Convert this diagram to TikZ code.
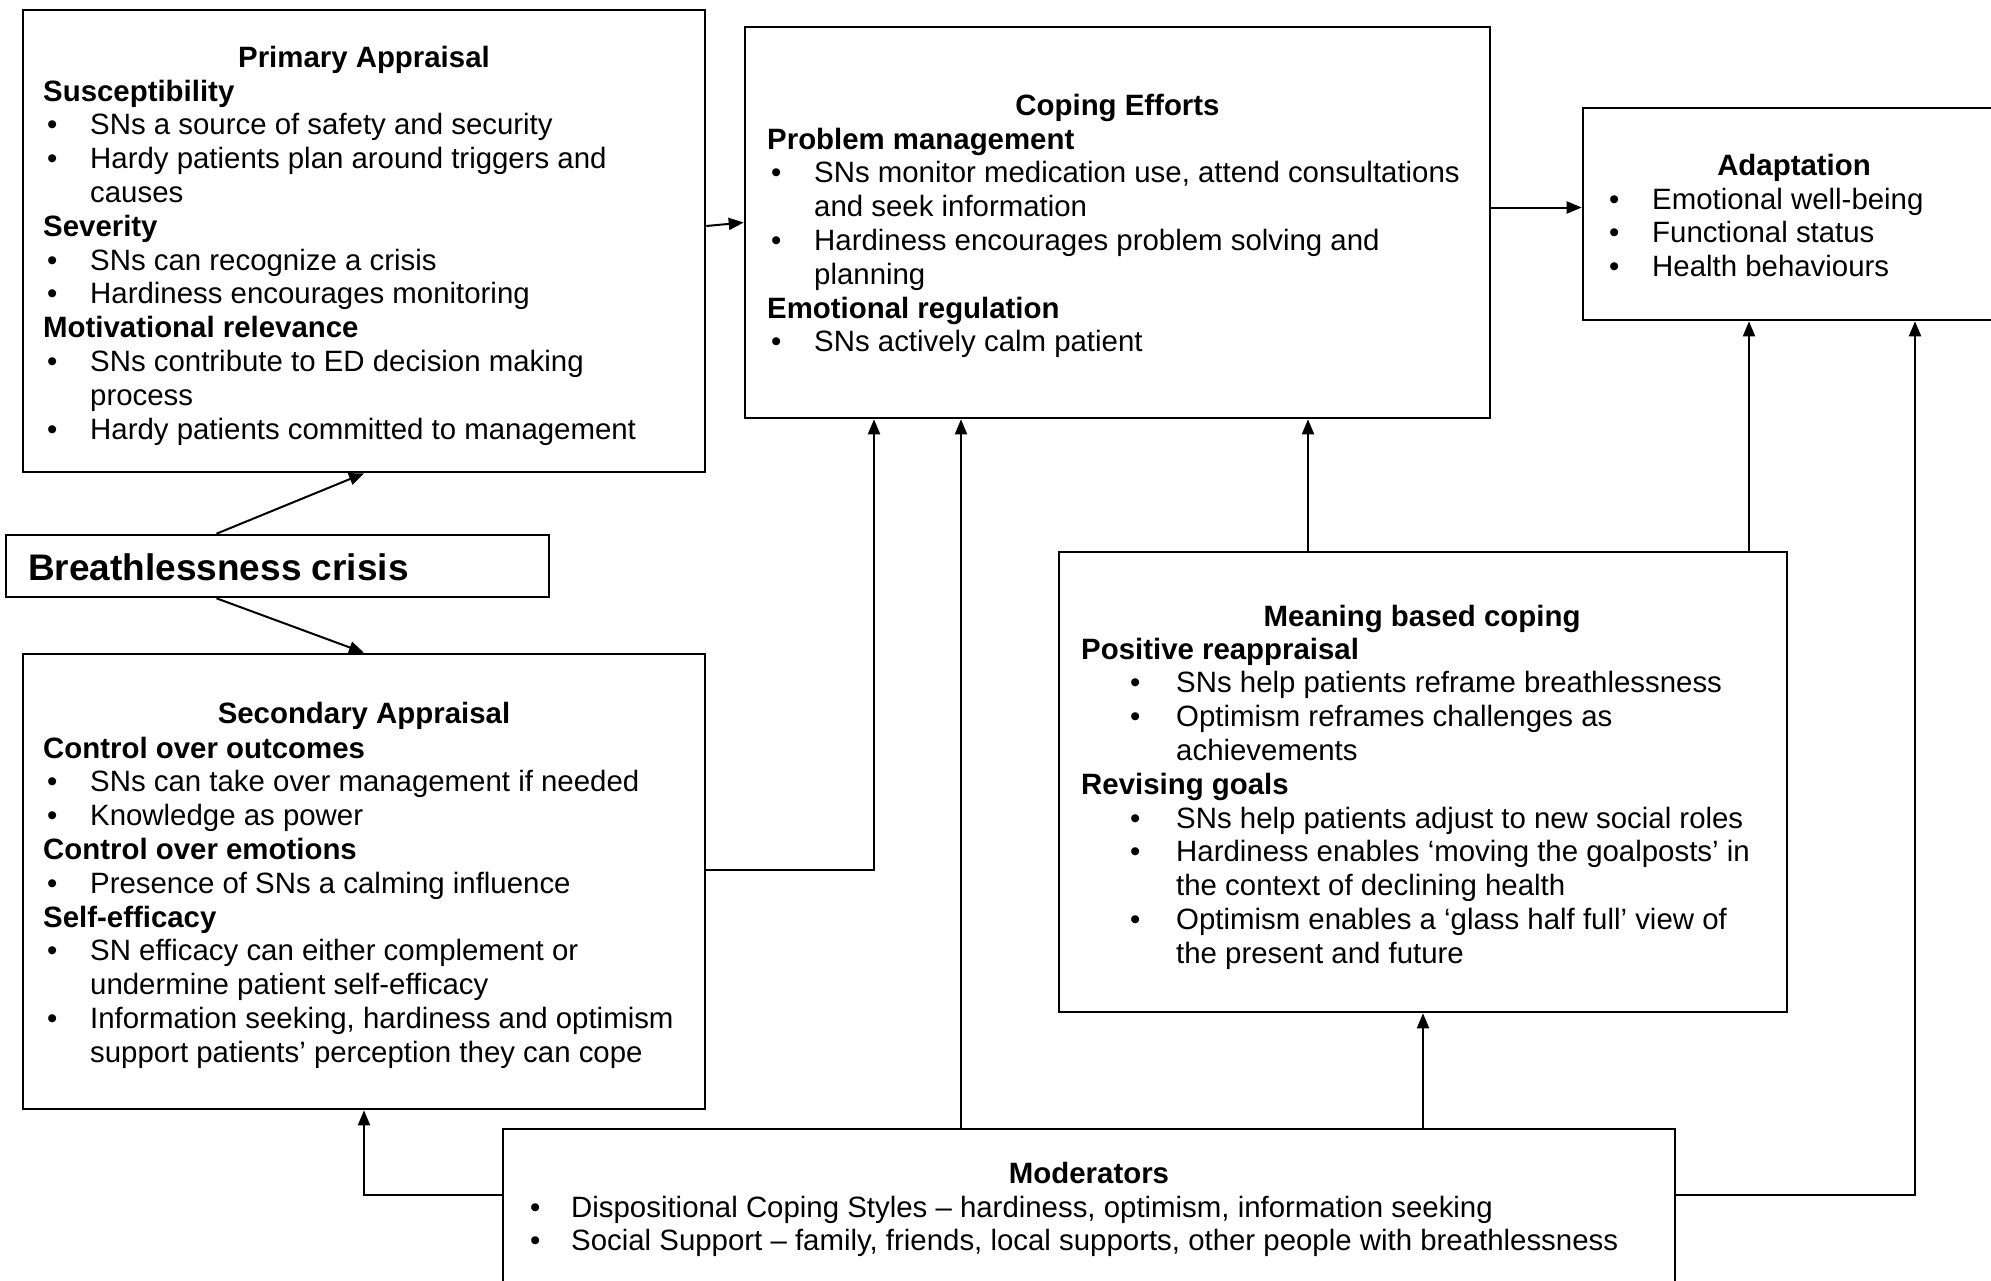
\documentclass[tikz,border=0pt]{standalone}
\usepackage{fontspec}
\setmainfont{Liberation Sans}
\usetikzlibrary{arrows.meta,calc}
\newcommand\bu{\hspace*{4pt}\makebox[43pt][l]{•}}
\newcommand\cn{\hspace*{47pt}}
\newcommand\bm{\hspace*{49pt}\makebox[46pt][l]{•}}
\newcommand\cm{\hspace*{95pt}}
\newcommand\bd{\hspace*{4pt}\makebox[41pt][l]{•}}
\tikzset{
  box/.style={draw, line width=2.6pt, rectangle, inner sep=0pt, fill=white},
  body/.style={anchor=base west, align=left, inner sep=0pt, font=\fontsize{29.4}{33.8}\selectfont},
  ttl/.style={anchor=base, inner sep=0pt, font=\fontsize{29.4}{33.8}\selectfont\bfseries},
  arr/.style={line width=2pt, -{Triangle[length=15pt,width=12pt]}},
  ln/.style={line width=2pt}
}
\begin{document}
\begin{tikzpicture}[x=1pt,y=-1pt]
\useasboundingbox (0,0) rectangle (1991,1280);
\clip (0,0) rectangle (1991,1280);
\fill[white] (0,0) rectangle (1991,1280);

% boxes
\node[box, minimum width=682pt, minimum height=462pt] (P) at (364,241) {};
\node[box, minimum width=543pt, minimum height=62pt] (B) at (277.5,566) {};
\node[box, minimum width=682pt, minimum height=455pt] (S) at (364,881.5) {};
\node[box, minimum width=745pt, minimum height=391pt] (C) at (1117.5,222.5) {};
\node[box, minimum width=422pt, minimum height=212pt] (A) at (1794,214) {};
\node[box, minimum width=728pt, minimum height=460pt] (M) at (1423,782) {};
\node[box, minimum width=1172pt, minimum height=171pt] (D) at (1089,1214.5) {};

% texts (body nodes are placed by the baseline of their last line)
\node[ttl] (Pt) at (364,67) {Primary Appraisal};
\node[body] (Pb) at (43,{101+10*33.8}) {\textbf{Susceptibility}\\
\bu SNs a source of safety and security\\
\bu Hardy patients plan around triggers and\\
\cn causes\\
\textbf{Severity}\\
\bu SNs can recognize a crisis\\
\bu Hardiness encourages monitoring\\
\textbf{Motivational relevance}\\
\bu SNs contribute to ED decision making\\
\cn process\\
\bu Hardy patients committed to management};

\node[anchor=base west, inner sep=0pt, font=\fontsize{37}{40}\selectfont\bfseries] (Bt) at (28,580) {Breathlessness crisis};

\node[ttl] (St) at (364,723) {Secondary Appraisal};
\node[body] (Sb) at (43,{758+9*33.8}) {\textbf{Control over outcomes}\\
\bu SNs can take over management if needed\\
\bu Knowledge as power\\
\textbf{Control over emotions}\\
\bu Presence of SNs a calming influence\\
\textbf{Self-efficacy}\\
\bu SN efficacy can either complement or\\
\cn undermine patient self-efficacy\\
\bu Information seeking, hardiness and optimism\\
\cn support patients’ perception they can cope};

\node[ttl] (Ct) at (1117.5,115) {Coping Efforts};
\node[body] (Cb) at (767,{149+6*33.8}) {\textbf{Problem management}\\
\bu SNs monitor medication use, attend consultations\\
\cn and seek information\\
\bu Hardiness encourages problem solving and\\
\cn planning\\
\textbf{Emotional regulation}\\
\bu SNs actively calm patient};

\node[ttl] (At) at (1794,175) {Adaptation};
\node[body] (Ab) at (1605,{209+2*33.8}) {\bu Emotional well-being\\
\bu Functional status\\
\bu Health behaviours};

\node[ttl] (Mt) at (1422,626) {Meaning based coping};
\node[body] (Mb) at (1081,{659+9*33.8}) {\textbf{Positive reappraisal}\\
\bm SNs help patients reframe breathlessness\\
\bm Optimism reframes challenges as\\
\cm achievements\\
\textbf{Revising goals}\\
\bm SNs help patients adjust to new social roles\\
\bm Hardiness enables ‘moving the goalposts’ in\\
\cm the context of declining health\\
\bm Optimism enables a ‘glass half full’ view of\\
\cm the present and future};

\node[ttl] (Dt) at (1089,1183) {Moderators};
\node[body] (Db) at (526,{1217+33.8}) {\bd Dispositional Coping Styles – hardiness, optimism, information seeking\\
\bd Social Support – family, friends, local supports, other people with breathlessness};

% connector coordinates
\coordinate (k1) at (874,870);
\coordinate (k2) at (961,0);
\coordinate (k3) at (1308,0);
\coordinate (k4) at (1749,0);
\coordinate (k5) at (1915,1195);
\coordinate (k6) at (364,1195);

% connectors
\draw[arr] ([xshift=-61pt]B.north) -- (P.south);
\draw[arr] ([xshift=-61pt]B.south) -- (S.north);
\draw[arr] ([yshift=15pt]P.east) -- (C.west);
\draw[arr] ([yshift=15pt]C.east) -- ([yshift=15pt]C.east -| A.west);
\draw[arr] (S.east |- k1) -| (k1 |- C.south);
\draw[arr] (k2 |- D.north) -- (k2 |- C.south);
\draw[arr] (k3 |- M.north) -- (k3 |- C.south);
\draw[arr] (k4 |- M.north) -- (k4 |- A.south);
\draw[arr] (D.east |- k5) -| (k5 |- A.south);
\draw[arr] (D.west |- k6) -| (S.south);
\draw[arr] (M.south |- D.north) -- (M.south);
\end{tikzpicture}
\end{document}
